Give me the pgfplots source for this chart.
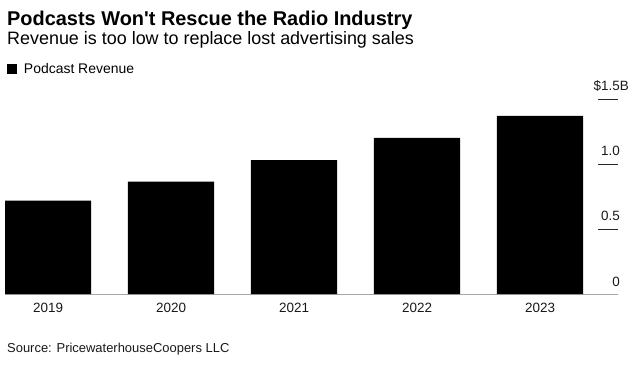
\documentclass[border=0pt]{standalone}
\usepackage{pgfplots}
\pgfplotsset{compat=1.18}
\usepackage{fontspec}
\setmainfont{Liberation Sans}[Ligatures=TeXOff]
\begin{document}
\begin{tikzpicture}
\begin{axis}[
  at={(0,0)}, anchor=south west,
  scale only axis, width=613bp, height=195bp,
  xmin=-0.35, xmax=4.634, ymin=0, ymax=1.5,
  ybar, bar width=0.7,
  axis x line*=bottom, axis y line*=right,
  x axis line style={draw=gray!70, line width=0.8bp, -},
  y axis line style={draw=none, -},
  xtick={0,1,2,3,4}, xticklabels={2019,2020,2021,2022,2023},
  x tick style={draw=none},
  xticklabel style={anchor=base, inner sep=0pt, yshift=-18.7bp, font=\fontsize{13.5}{16}\selectfont, text=black!90},
  ytick={0,0.5,1,1.5}, yticklabels={0,0.5,1.0,\$1.5\rlap{B}},
  tick align=inside, major tick length=20bp,
  y tick style={draw=black!85, line width=0.8bp},
  yticklabel style={anchor=base east, inner sep=0pt, yshift=8bp, xshift=2bp, font=\fontsize{13.5}{16}\selectfont, text=black!90},
  /pgf/number format/assume math mode=true,
  legend style={draw=none, fill=none, inner sep=0pt, outer sep=0pt,
    at={(0,1)}, anchor=south west, xshift=2bp, yshift=22bp,
    font=\fontsize{14}{16}\selectfont, column sep=5bp},
  legend image code/.code={\fill[black] (0bp,-5bp) rectangle (10bp,5bp);},
  legend cell align=left,
]
\addplot[fill=black, draw=none] coordinates {(0,0.718) (1,0.864) (2,1.03) (3,1.20) (4,1.37)};
\addlegendentry{Podcast Revenue}
\end{axis}
\node[anchor=base west, inner sep=0pt, font=\bfseries\fontsize{20}{24}\selectfont] at (2bp,268bp) {Podcasts Won't Rescue the Radio Industry};
\node[anchor=base west, inner sep=0pt, font=\fontsize{18}{21}\selectfont] at (2bp,249bp) {Revenue is too low to replace lost advertising sales};
\node[anchor=base west, inner sep=0pt, font=\fontsize{13}{16}\selectfont, text=black!90] at (2bp,-58.7bp) {Source: PricewaterhouseCoopers LLC};
\pgfresetboundingbox
\useasboundingbox (-5bp,-74bp) rectangle (634bp,294bp);
\end{tikzpicture}
\end{document}
